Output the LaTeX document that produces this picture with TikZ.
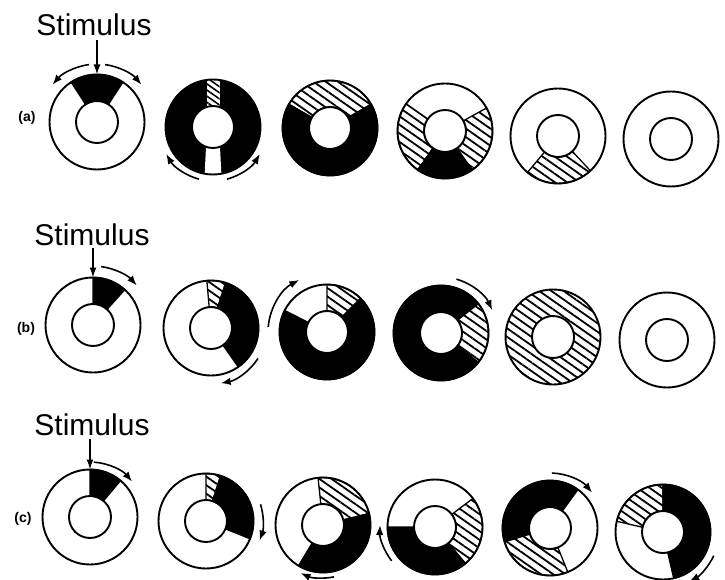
\documentclass[tikz,border=0pt]{standalone}
\usepackage{fontspec}
\setmainfont{Liberation Sans}
\usetikzlibrary{calc,patterns.meta,arrows.meta}

% ring radii
\newcommand\Ro{47.5pt}
\newcommand\Ri{21pt}
% annular sector: centre, start angle, end angle, style
\newcommand\ringsector[4]{\path[#4] ($(#1)+(#2:\Ro)$) arc[start angle=#2,end angle=#3,radius=\Ro]
  -- ($(#1)+(#3:\Ri)$) arc[start angle=#3,end angle=#2,radius=\Ri] -- cycle;}
% whole annulus, filled without any seam
\newcommand\ringfull[2]{\path[#2, even odd rule] (#1) circle[radius=\Ro] (#1) circle[radius=\Ri];}
% curved arrow round a ring: centre, radius, start angle, end angle
\newcommand\ringturn[4]{\draw[turnarrow] ($(#1)+(#3:#2pt)$) arc[start angle=#3,end angle=#4,radius=#2pt];}
% outer and inner outline of a ring
\newcommand\ringline[1]{\draw[ringedge] (#1) circle[radius=\Ro] (#1) circle[radius=\Ri];}

\tikzset{
  ringedge/.style={line width=1.9pt},
  hatchlines/.style={pattern={Lines[angle=-35,distance=7pt,line width=1.8pt]}},
  dark/.style={fill=black, draw=black, line width=1.3pt},
  hatch/.style={draw=black, line width=1.3pt, preaction={fill=white}, hatchlines},
  turnarrow/.style={line width=1.6pt, -{Latex[length=10pt,width=7.5pt]}},
  stimarrow/.style={line width=1.6pt, -{Latex[length=10pt,width=7pt]}},
  stim/.style={font=\fontsize{30}{36}\selectfont, anchor=base, inner sep=0pt},
  rowlabel/.style={font=\bfseries\fontsize{14}{16}\selectfont, inner sep=0pt},
}

\begin{document}
\begin{tikzpicture}[x=1pt,y=1pt]
\useasboundingbox (0,0) rectangle (725,-580);

% ring centres
\coordinate (a1) at (97,-122);  \coordinate (a2) at (213,-127);
\coordinate (a3) at (330,-128); \coordinate (a4) at (445,-131);
\coordinate (a5) at (558,-136); \coordinate (a6) at (671,-139);
\coordinate (b1) at (93,-325);  \coordinate (b2) at (211,-328);
\coordinate (b3) at (327,-332); \coordinate (b4) at (441,-333);
\coordinate (b5) at (553,-337); \coordinate (b6) at (667,-340);
\coordinate (c1) at (90,-517);  \coordinate (c2) at (206,-521);
\coordinate (c3) at (323,-525); \coordinate (c4) at (435,-527);
\coordinate (c5) at (550,-528); \coordinate (c6) at (663,-532);

% stimulus labels and arrows
\node[stim] (sa) at (94,-36) {Stimulus};
\node[stim] (sb) at (92,-245) {Stimulus};
\node[stim] (sc) at (92,-435) {Stimulus};
\draw[stimarrow] (sa.south -| a1) ++(0,-4) -- ($(a1)+(0,47.5)$);
\draw[stimarrow] (sb.south -| b1) ++(0,-3) -- ($(b1)+(0,47.5)$);
\draw[stimarrow] (sc.south -| c1) ++(0,-4) -- ($(c1)+(0,47.5)$);

% row labels
\node[rowlabel] (la) at (27,-118) {(a)};
\node[rowlabel] (lb) at (26,-329) {(b)};
\node[rowlabel] (lc) at (23,-519) {(c)};

% ---- row (a)
\ringsector{a1}{57}{123}{dark}
\ringline{a1}
\ringturn{a1}{58}{98}{140}
\ringturn{a1}{58}{82}{40}

\ringfull{a2}{fill=black}
\begin{scope}
  \clip (a2) circle[radius=\Ro];
  \fill[white] ($(a2)+(-6.5,10)$) rectangle ($(a2)+(6.5,60)$);
  \fill[pattern={Lines[angle=-35,distance=5pt,line width=1.6pt]}] ($(a2)+(-6.5,10)$) rectangle ($(a2)+(6.5,60)$);
  \fill[white] ($(a2)+(-6.5,-10)$) -- ($(a2)+(6.5,-10)$) -- ($(a2)+(9,-60)$) -- ($(a2)+(-9,-60)$) -- cycle;
\end{scope}
\fill[white] (a2) circle[radius=\Ri];
\ringline{a2}
\ringturn{a2}{54}{-105}{-150}
\ringturn{a2}{54}{-75}{-30}

\ringsector{a3}{30}{150}{hatch}
\ringsector{a3}{150}{390}{dark}
\ringline{a3}

\ringsector{a4}{145}{235}{hatch}
\ringsector{a4}{235}{305}{dark}
\ringsector{a4}{305}{389}{hatch}
\ringline{a4}

\ringsector{a5}{-130}{-47}{hatch}
\ringline{a5}

\ringline{a6}

% ---- row (b)
\ringsector{b1}{48}{90}{dark}
\ringline{b1}
\ringturn{b1}{59}{82}{42}

\ringsector{b2}{72}{95}{hatch}
\ringsector{b2}{-55}{72}{dark}
\ringline{b2}
\ringturn{b2}{56}{-33}{-80}

\ringsector{b3}{45}{90}{hatch}
\ringsector{b3}{153}{405}{dark}
\ringline{b3}
\ringturn{b3}{59}{175}{118}

\ringsector{b4}{38}{322}{dark}
\ringsector{b4}{-38}{38}{hatch}
\ringline{b4}
\ringturn{b4}{56}{74}{24}

\ringfull{b5}{hatchlines}
\ringline{b5}

\ringline{b6}

% ---- row (c)
\ringsector{c1}{50}{90}{dark}
\ringline{c1}
\ringturn{c1}{55}{86}{40}

\ringsector{c2}{72}{90}{hatch}
\ringsector{c2}{-22}{72}{dark}
\ringline{c2}
\ringturn{c2}{57}{17}{-20}

\ringsector{c3}{14}{96}{hatch}
\ringsector{c3}{-121}{14}{dark}
\ringline{c3}
\ringturn{c3}{53}{-78}{-115}

\ringsector{c4}{180}{310}{dark}
\ringsector{c4}{-50}{37}{hatch}
\ringline{c4}
\ringturn{c4}{55}{-142}{-182}

\ringsector{c5}{54}{197}{dark}
\ringsector{c5}{197}{292}{hatch}
\ringline{c5}
\ringturn{c5}{55}{88}{40}

\ringsector{c6}{90}{167}{hatch}
\ringsector{c6}{-77}{90}{dark}
\ringline{c6}
\ringturn{c6}{56}{-25}{-62}
\end{tikzpicture}
\end{document}
